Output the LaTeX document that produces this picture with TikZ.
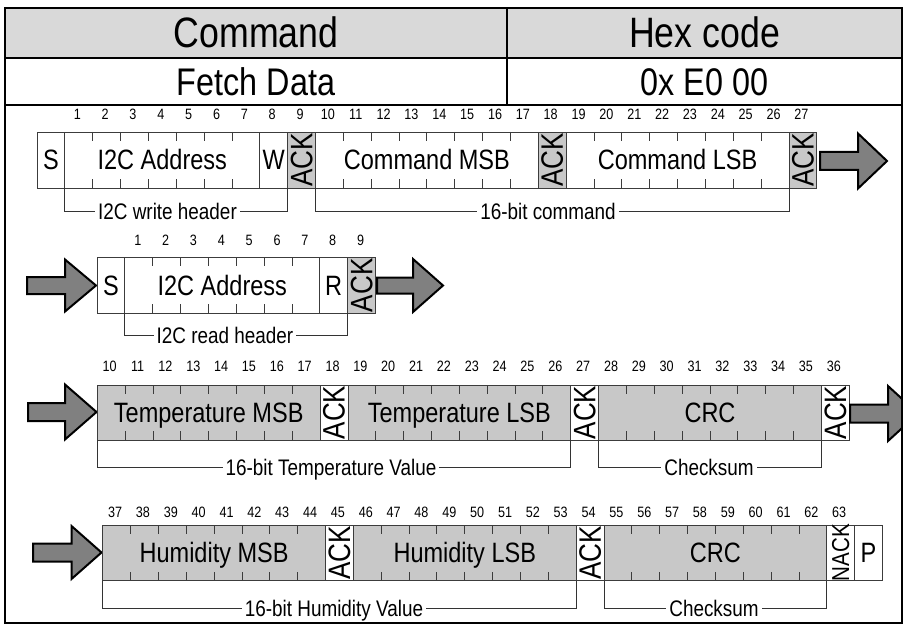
\documentclass[tikz,border=0pt]{standalone}
\usepackage{fontspec}
\newfontfamily\nar[FakeStretch=0.84]{Liberation Sans}
\definecolor{hdrgray}{RGB}{217,217,217}
\definecolor{cellgray}{RGB}{200,200,200}
\definecolor{arrgray}{RGB}{128,128,128}
\definecolor{celledge}{RGB}{60,60,60}
\def\bw{27.85}
\newcommand{\bitfield}[6]{%
  \pgfmathsetmacro\fa{#1+(#4)*\bw}%
  \pgfmathsetmacro\fb{#1+(#4+#5)*\bw}%
  \draw[cell, fill=#6] (\fa,#2) rectangle (\fb,#3);%
  \ifnum#5>1
    \pgfmathtruncatemacro\nt{#5-1}%
    \foreach \j in {1,...,\nt}{%
      \pgfmathsetmacro\tx{\fa+\j*\bw}%
      \draw[cell] (\tx,#2) -- ++(0,9) (\tx,#3) -- ++(0,-9);
    }%
  \fi
}
\newcommand{\blockarrow}[6]{%
  \draw[blk] (#1,{#2-#3}) -- (#4,{#2-#3}) -- (#4,{#2-#5}) -- (#6,#2) -- (#4,{#2+#5}) -- (#4,{#2+#3}) -- (#1,{#2+#3}) -- cycle;%
}
\begin{document}
\begin{tikzpicture}[x=1pt,y=-1pt,
  frame/.style={line width=2.4pt, draw=black},
  cell/.style={draw=celledge, line width=0.9pt},
  brk/.style={draw=black!80, line width=0.9pt},
  blk/.style={draw=black, line width=2pt, fill=arrgray, line join=miter},
  num/.style={anchor=base, inner sep=0pt, font=\nar\fontsize{15}{15}\selectfont},
  lab/.style={anchor=base, inner sep=0pt, font=\nar\fontsize{28}{28}\selectfont},
  acklab/.style={rotate=90, inner sep=0pt, font=\nar\fontsize{31}{31}\selectfont},
  nacklab/.style={rotate=90, inner sep=0pt, font=\nar\fontsize{24.5}{24.5}\selectfont},
  blab/.style={anchor=base, fill=white, inner xsep=3pt, inner ysep=1pt, font=\nar\fontsize{22.5}{22.5}\selectfont},
  hdr/.style={anchor=base, inner sep=0pt, font=\nar\fontsize{42.5}{42.5}\selectfont},
  hdrtwo/.style={anchor=base, inner sep=0pt, font=\nar\fontsize{38.5}{38.5}\selectfont}
]
\useasboundingbox (0,0) rectangle (909,631);

% table header
\fill[hdrgray] (5,8) rectangle (902,58);
\node[hdr] (hcmd) at (256,48) {Command};
\node[hdr] (hhex) at (704.5,48) {Hex code};
\node[hdrtwo] (vcmd) at (256,95.3) {Fetch Data};
\node[hdrtwo] (vhex) at (704.5,95.3) {0x E0 00};

% ---------- Row 1 ----------
\bitfield{37}{132}{188}{0}{1}{white}
\bitfield{37}{132}{188}{1}{7}{white}
\bitfield{37}{132}{188}{8}{1}{white}
\bitfield{37}{132}{188}{9}{1}{cellgray}
\bitfield{37}{132}{188}{10}{8}{white}
\bitfield{37}{132}{188}{18}{1}{cellgray}
\bitfield{37}{132}{188}{19}{8}{white}
\bitfield{37}{132}{188}{27}{1}{cellgray}
\foreach \k in {1,...,27}{\node[num] (na\k) at ({37+(\k+0.5)*\bw-1.5},120) {\k};}
\node[lab] (s1) at ({37+0.5*\bw},169.5) {S};
\node[lab] (addr1) at ({37+4.5*\bw},169.5) {I2C Address};
\node[lab] (w1) at ({37+8.5*\bw},169.5) {W};
\node[acklab] (ack1a) at ({37+9.5*\bw},160) {ACK};
\node[lab] (cmsb) at ({37+14*\bw},169.5) {Command MSB};
\node[acklab] (ack1b) at ({37+18.5*\bw},160) {ACK};
\node[lab] (clsb) at ({37+23*\bw},169.5) {Command LSB};
\node[acklab] (ack1c) at ({37+27.5*\bw},160) {ACK};
\draw[brk] ({37+\bw},188) -- ({37+\bw},211) -- ({37+9*\bw},211) -- ({37+9*\bw},188);
\node[blab] (wh) at (167.5,219) {I2C write header};
\draw[brk] ({37+10*\bw},188) -- ({37+10*\bw},211) -- ({37+27*\bw},211) -- ({37+27*\bw},188);
\node[blab] (cmd16) at (548,219) {16-bit command};
\blockarrow{820}{161}{9}{858}{27.5}{887}

% ---------- Row 2 ----------
\blockarrow{27}{285.5}{8.5}{65}{26}{96}
\bitfield{97}{257.3}{313.3}{0}{1}{white}
\bitfield{97}{257.3}{313.3}{1}{7}{white}
\bitfield{97}{257.3}{313.3}{8}{1}{white}
\bitfield{97}{257.3}{313.3}{9}{1}{cellgray}
\foreach \k in {1,...,9}{\node[num] (nb\k) at ({97+(\k+0.5)*\bw-1},245) {\k};}
\node[lab] (s2) at ({97+0.5*\bw},295) {S};
\node[lab] (addr2) at ({97+4.5*\bw},295) {I2C Address};
\node[lab] (r2) at ({97+8.5*\bw},295) {R};
\node[acklab] (ack2) at ({97+9.5*\bw},285.3) {ACK};
\draw[brk] ({97+\bw},313.3) -- ({97+\bw},335) -- ({97+9*\bw},335) -- ({97+9*\bw},313.3);
\node[blab] (rh) at (225,343) {I2C read header};
\blockarrow{377}{285.5}{8}{413}{26.5}{443}

% ---------- Row 3 ----------
\blockarrow{28}{412}{9}{65}{27.5}{96.5}
\bitfield{97.3}{385}{440}{0}{8}{cellgray}
\bitfield{97.3}{385}{440}{8}{1}{white}
\bitfield{97.3}{385}{440}{9}{8}{cellgray}
\bitfield{97.3}{385}{440}{17}{1}{white}
\bitfield{97.3}{385}{440}{18}{8}{cellgray}
\bitfield{97.3}{385}{440}{26}{1}{white}
\foreach \k in {10,...,36}{\node[num] (nc\k) at ({97.3+(\k-10+0.5)*\bw-1.5},371.2) {\k};}
\node[lab] (tmsb) at ({97.3+4*\bw},422) {Temperature MSB};
\node[acklab] (ack3a) at ({97.3+8.5*\bw},412.5) {ACK};
\node[lab] (tlsb) at ({97.3+13*\bw},422) {Temperature LSB};
\node[acklab] (ack3b) at ({97.3+17.5*\bw},412.5) {ACK};
\node[lab] (crc3) at ({97.3+22*\bw},422) {CRC};
\node[acklab] (ack3c) at ({97.3+26.5*\bw},412.5) {ACK};
\draw[brk] (97.3,440) -- (97.3,467) -- ({97.3+17*\bw},467) -- ({97.3+17*\bw},440);
\node[blab] (tv) at (331,475) {16-bit Temperature Value};
\draw[brk] ({97.3+18*\bw},440) -- ({97.3+18*\bw},467) -- ({97.3+26*\bw},467) -- ({97.3+26*\bw},440);
\node[blab] (cs3) at (709,475) {Checksum};
\begin{scope}
  \clip (0,0) rectangle (902,631);
  \blockarrow{850}{413.5}{9}{888}{27.5}{918}
\end{scope}

% ---------- Row 4 ----------
\blockarrow{33}{552.5}{9}{71.5}{26.5}{101.5}
\bitfield{102.7}{525}{580.7}{0}{8}{cellgray}
\bitfield{102.7}{525}{580.7}{8}{1}{white}
\bitfield{102.7}{525}{580.7}{9}{8}{cellgray}
\bitfield{102.7}{525}{580.7}{17}{1}{white}
\bitfield{102.7}{525}{580.7}{18}{8}{cellgray}
\bitfield{102.7}{525}{580.7}{26}{1}{white}
\bitfield{102.7}{525}{580.7}{27}{1}{white}
\foreach \k in {37,...,63}{\node[num] (nd\k) at ({102.7+(\k-37+0.5)*\bw-1.5},517.2) {\k};}
\node[lab] (hmsb) at ({102.7+4*\bw},562.5) {Humidity MSB};
\node[acklab] (ack4a) at ({102.7+8.5*\bw},552.8) {ACK};
\node[lab] (hlsb) at ({102.7+13*\bw},562.5) {Humidity LSB};
\node[acklab] (ack4b) at ({102.7+17.5*\bw},552.8) {ACK};
\node[lab] (crc4) at ({102.7+22*\bw},562.5) {CRC};
\node[nacklab] (nack4) at ({102.7+26.5*\bw},552.8) {NACK};
\node[lab] (p4) at ({102.7+27.5*\bw},562.5) {P};
\draw[brk] (102.7,580.7) -- (102.7,608) -- ({102.7+17*\bw},608) -- ({102.7+17*\bw},580.7);
\node[blab] (hv) at (334,616) {16-bit Humidity Value};
\draw[brk] ({102.7+18*\bw},580.7) -- ({102.7+18*\bw},608) -- ({102.7+26*\bw},608) -- ({102.7+26*\bw},580.7);
\node[blab] (cs4) at (714,616) {Checksum};

% ---------- frame ----------
\draw[frame] (5,8) rectangle (902,623);
\draw[frame] (5,58) -- (902,58);
\draw[frame] (5,105) -- (902,105);
\draw[frame] (507,8) -- (507,105);
\end{tikzpicture}
\end{document}
